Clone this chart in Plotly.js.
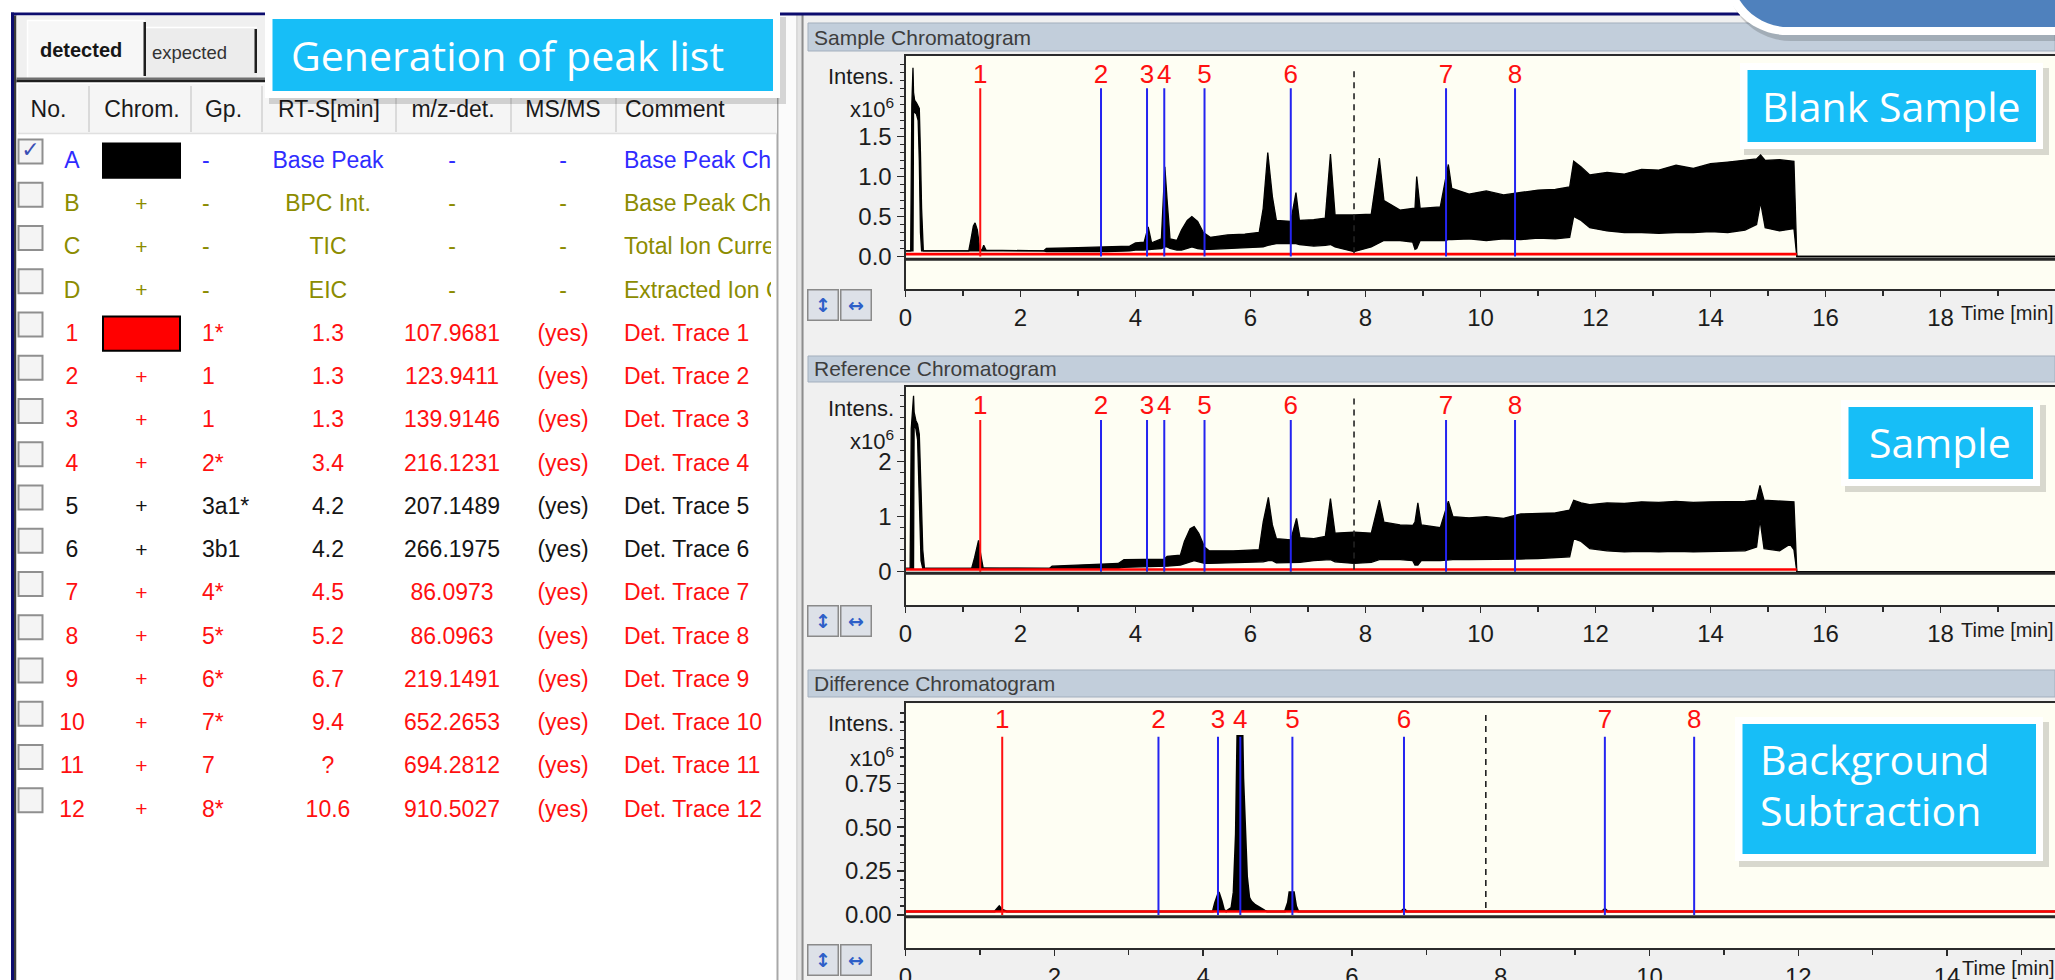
<!DOCTYPE html>
<html><head><meta charset="utf-8">
<script src="https://cdn.plot.ly/plotly-3.0.1.min.js"></script>
<style>html,body{margin:0;padding:0;background:#fff;overflow:hidden}#chart{width:2055px;height:980px}</style>
</head><body><div id="chart"></div>
<script>
// ================= DATA =================
// ---- peak list table ----
const tableHeader = ['No.', 'Chrom.', 'Gp.', 'RT-S[min]', 'm/z-det.', 'MS/MS', 'Comment'];
const rowNo      = ['A','B','C','D','1','2','3','4','5','6','7','8','9','10','11','12'];
const rowChecked = [true,false,false,false,false,false,false,false,false,false,false,false,false,false,false,false];
const rowSwatch  = ['#000000',null,null,null,'#ff0000',null,null,null,null,null,null,null,null,null,null,null];
const rowGp      = ['-','-','-','-','1*','1','1','2*','3a1*','3b1','4*','5*','6*','7*','7','8*'];
const rowRT      = ['Base Peak','BPC Int.','TIC','EIC','1.3','1.3','1.3','3.4','4.2','4.2','4.5','5.2','6.7','9.4','?','10.6'];
const rowMz      = ['-','-','-','-','107.9681','123.9411','139.9146','216.1231','207.1489','266.1975','86.0973','86.0963','219.1491','652.2653','694.2812','910.5027'];
const rowMsMs    = ['-','-','-','-','(yes)','(yes)','(yes)','(yes)','(yes)','(yes)','(yes)','(yes)','(yes)','(yes)','(yes)','(yes)'];
const rowComment = ['Base Peak Chromatogram','Base Peak Chromatogram','Total Ion Current','Extracted Ion Chromatogram',
  'Det. Trace 1','Det. Trace 2','Det. Trace 3','Det. Trace 4','Det. Trace 5','Det. Trace 6','Det. Trace 7','Det. Trace 8',
  'Det. Trace 9','Det. Trace 10','Det. Trace 11','Det. Trace 12'];
const rowColor   = ['#2f2cff','#8c8c00','#8c8c00','#8c8c00','#ff1010','#ff1010','#ff1010','#ff1010','#141414','#141414',
  '#ff1010','#ff1010','#ff1010','#ff1010','#ff1010','#ff1010'];

// ---- chromatogram 1: blank sample (upper / lower envelope of the base peak trace, x10^6) ----
const blankTime = [
  0.00, 0.09, 0.11, 0.13, 0.14, 0.16, 0.19, 0.22, 0.24, 0.26,
  0.28, 0.31, 1.10, 1.14, 1.18, 1.21, 1.25, 1.29, 1.33, 1.36,
  1.40, 2.40, 2.45, 3.00, 3.50, 3.90, 4.00, 4.15, 4.22, 4.28,
  4.45, 4.51, 4.55, 4.60, 4.72, 4.80, 4.90, 4.98, 5.08, 5.18,
  5.30, 5.60, 5.90, 6.15, 6.22, 6.30, 6.38, 6.45, 6.70, 6.79,
  6.85, 7.10, 7.30, 7.39, 7.47, 7.80, 8.10, 8.18, 8.24, 8.32,
  8.60, 8.82, 8.86, 8.89, 8.95, 9.30, 9.38, 9.44, 9.50, 9.80,
  10.10, 10.40, 10.70, 11.00, 11.30, 11.55, 11.62, 11.75, 11.90, 12.20,
  12.50, 12.80, 13.10, 13.40, 13.70, 14.00, 14.30, 14.60, 14.80, 14.87,
  14.95, 15.20, 15.45, 15.50, 19.99];
const blankUpper = [
  0.07, 0.07, 1.90, 2.36, 2.05, 1.95, 1.92, 1.88, 1.85, 1.30,
  0.60, 0.07, 0.07, 0.22, 0.38, 0.42, 0.33, 0.10, 0.08, 0.14,
  0.08, 0.07, 0.10, 0.11, 0.12, 0.13, 0.17, 0.18, 0.37, 0.17,
  0.22, 1.12, 0.70, 0.22, 0.20, 0.33, 0.45, 0.50, 0.44, 0.30,
  0.24, 0.27, 0.28, 0.30, 0.60, 1.30, 0.75, 0.45, 0.44, 0.80,
  0.45, 0.46, 0.48, 1.28, 0.52, 0.52, 0.53, 0.90, 1.23, 0.70,
  0.58, 0.60, 0.60, 1.00, 0.60, 0.62, 0.90, 1.15, 0.85, 0.78,
  0.82, 0.77, 0.80, 0.83, 0.84, 0.87, 1.19, 1.12, 1.02, 1.05,
  1.03, 1.09, 1.08, 1.14, 1.10, 1.16, 1.18, 1.20, 1.22, 1.27,
  1.20, 1.21, 1.19, 0.00, 0.00];
const blankLower = [
  0.07, 0.07, 0.07, 0.07, 1.85, 1.80, 1.78, 1.70, 1.20, 0.30,
  0.07, 0.07, 0.07, 0.07, 0.07, 0.07, 0.07, 0.07, 0.07, 0.07,
  0.07, 0.07, 0.06, 0.06, 0.06, 0.07, 0.08, 0.08, 0.09, 0.09,
  0.10, 0.12, 0.12, 0.10, 0.08, 0.08, 0.10, 0.12, 0.10, 0.09,
  0.09, 0.10, 0.11, 0.11, 0.12, 0.14, 0.15, 0.16, 0.16, 0.16,
  0.15, 0.13, 0.14, 0.15, 0.12, 0.06, 0.12, 0.15, 0.18, 0.20,
  0.20, 0.18, 0.09, 0.10, 0.20, 0.20, 0.20, 0.21, 0.21, 0.22,
  0.20, 0.22, 0.21, 0.23, 0.22, 0.24, 0.50, 0.45, 0.36, 0.32,
  0.30, 0.30, 0.29, 0.30, 0.30, 0.31, 0.30, 0.33, 0.40, 0.68,
  0.36, 0.32, 0.35, 0.00, 0.00];

// ---- chromatogram 2: sample (reference chromatogram) ----
const sampleTime = [
  0.00, 0.08, 0.10, 0.14, 0.15, 0.18, 0.21, 0.24, 0.27, 0.30,
  0.33, 1.15, 1.20, 1.25, 1.27, 1.31, 1.35, 2.50, 2.55, 3.20,
  3.70, 3.80, 4.50, 4.55, 4.78, 4.85, 4.95, 5.02, 5.10, 5.20,
  5.28, 5.70, 6.15, 6.22, 6.31, 6.38, 6.45, 6.70, 6.80, 6.86,
  7.10, 7.30, 7.39, 7.47, 7.80, 8.10, 8.18, 8.24, 8.32, 8.60,
  8.82, 8.86, 8.91, 8.97, 9.30, 9.38, 9.44, 9.52, 9.80, 10.10,
  10.40, 10.70, 11.00, 11.30, 11.55, 11.62, 11.75, 11.90, 12.20, 12.50,
  12.80, 13.10, 13.40, 13.70, 14.00, 14.30, 14.60, 14.80, 14.86, 14.93,
  15.20, 15.38, 15.45, 15.50, 19.99];
const sampleUpper = [
  0.06, 0.06, 2.60, 3.20, 2.90, 2.75, 2.68, 2.50, 1.50, 0.40,
  0.06, 0.06, 0.25, 0.50, 0.57, 0.30, 0.07, 0.06, 0.10, 0.13,
  0.15, 0.22, 0.23, 0.28, 0.30, 0.55, 0.78, 0.82, 0.70, 0.45,
  0.38, 0.38, 0.40, 0.90, 1.35, 0.85, 0.60, 0.58, 0.97, 0.62,
  0.60, 0.64, 1.33, 0.70, 0.72, 0.70, 1.05, 1.30, 0.90, 0.85,
  0.84, 0.90, 1.25, 0.85, 0.80, 1.10, 1.28, 1.00, 0.98, 1.00,
  0.97, 1.05, 1.06, 1.07, 1.12, 1.30, 1.25, 1.22, 1.25, 1.24,
  1.27, 1.26, 1.28, 1.26, 1.27, 1.27, 1.28, 1.30, 1.57, 1.30,
  1.28, 1.28, 1.27, 0.00, 0.00];
const sampleLower = [
  0.06, 0.06, 0.06, 0.06, 2.70, 2.60, 2.40, 1.00, 0.20, 0.06,
  0.06, 0.06, 0.06, 0.06, 0.06, 0.06, 0.06, 0.06, 0.05, 0.06,
  0.06, 0.08, 0.09, 0.10, 0.12, 0.14, 0.18, 0.20, 0.18, 0.15,
  0.15, 0.16, 0.17, 0.18, 0.20, 0.20, 0.16, 0.16, 0.16, 0.17,
  0.20, 0.22, 0.22, 0.18, 0.15, 0.17, 0.20, 0.22, 0.22, 0.22,
  0.20, 0.12, 0.12, 0.20, 0.20, 0.21, 0.22, 0.22, 0.22, 0.22,
  0.22, 0.23, 0.24, 0.25, 0.27, 0.60, 0.55, 0.42, 0.38, 0.36,
  0.37, 0.36, 0.37, 0.36, 0.37, 0.37, 0.38, 0.45, 0.95, 0.42,
  0.38, 0.50, 0.40, 0.00, 0.00];

// ---- chromatogram 3: difference (background subtraction) ----
const diffTime = [0.00, 1.20, 1.26, 1.30, 1.36, 4.13, 4.16, 4.19, 4.21, 4.25, 4.28, 4.31, 4.38, 4.41, 4.44, 4.46,
  4.53, 4.54, 4.56, 4.59, 4.62, 4.65, 4.70, 4.77, 4.83, 4.86, 5.10, 5.14, 5.16, 5.22, 5.25, 5.28, 6.66, 6.70, 6.74,
  9.36, 9.40, 9.44, 15.45];
const diffValue = [0.02, 0.02, 0.05, 0.03, 0.02, 0.02, 0.07, 0.11, 0.13, 0.08, 0.03, 0.02, 0.04, 0.13, 0.46, 1.02,
  1.02, 0.78, 0.51, 0.22, 0.10, 0.076, 0.057, 0.038, 0.025, 0.02, 0.02, 0.07, 0.13, 0.13, 0.05, 0.02, 0.02, 0.035, 0.02,
  0.02, 0.035, 0.02, 0.02];

// ---- red extracted ion trace (Det. Trace 1) ----
const eicTime  = [0, 15.5];
const eicBlank = [0.03, 0.03];
const eicSample = [0.04, 0.04];
const eicDiffTime = [0, 15.45];
const eicDiff  = [0.02, 0.02];

// cursor (dashed) position
const cursorTime = 7.8;

// axis tick labels
const timeTicksLong  = [0, 2, 4, 6, 8, 10, 12, 14, 16, 18];
const timeTicksShort = [0, 2, 4, 6, 8, 10, 12, 14];
const intensTicks1 = [0, 0.5, 1.0, 1.5],        intensText1 = ['0.0','0.5','1.0','1.5'];
const intensTicks2 = [0, 1, 2],                 intensText2 = ['0','1','2'];
const intensTicks3 = [0, 0.25, 0.5, 0.75],      intensText3 = ['0.00','0.25','0.50','0.75'];

// ================= STYLE / LAYOUT =================
const W = 2055, H = 980;
const X = p => p / W;
const Y = p => 1 - p / H;
const UI = '"Liberation Sans", Arial, sans-serif';
const CALL = '"Open Sans", "Noto Sans", sans-serif';
const TXT = '#1c1c1c', AX = '#2b2b2b', BLUE = '#2424f0', RED = '#ff1010', CYAN = '#17bef7';

function steps(a, b, s) { const o = []; for (let i = 0; a + i * s <= b + 1e-9; i++) o.push(+(a + i * s).toFixed(4)); return o; }

const shapes = [], annotations = [], traces = [];
function R(x0, y0, x1, y1, fill, layer, line) {
  shapes.push({type:'rect', xref:'paper', yref:'paper', x0:X(x0), x1:X(x1), y0:Y(y1), y1:Y(y0),
    fillcolor:fill, line: line || {width:0}, layer: layer || 'below'});
}
function L(x0, y0, x1, y1, color, w, layer) {
  shapes.push({type:'line', xref:'paper', yref:'paper', x0:X(x0), x1:X(x1), y0:Y(y0), y1:Y(y1),
    line:{color, width:w}, layer: layer || 'below'});
}
function A(text, x, y, opt) {
  annotations.push(Object.assign({text, xref:'paper', yref:'paper', x:X(x), y:Y(y), showarrow:false,
    xanchor:'left', yanchor:'middle', font:{family:UI, size:22, color:TXT}}, opt || {}));
}
function roundedPath(x0, yb, r, xr, ytop) {
  const k = 0.5523;
  const P = (x, y) => X(x).toFixed(5) + ',' + Y(y).toFixed(5);
  return 'M' + P(x0, ytop) + ' L' + P(x0, yb - r) + ' C' + P(x0, yb - r + k * r) + ' ' + P(x0 + r - k * r, yb) + ' ' +
    P(x0 + r, yb) + ' L' + P(xr, yb) + ' L' + P(xr, ytop) + ' Z';
}

// ---------- backgrounds ----------
R(0, 0, W, H, '#ffffff');
R(804, 15, W, H, '#f0f0f0');
R(779, 15, 796, H, '#fbfbfb');
R(796, 15, 804, H, '#e4e4e4');
L(797, 15, 797, H, '#cfcfcf', 1);
L(802.5, 15, 802.5, H, '#8d8d8d', 2);
R(11, 12.5, 1740, 15.5, '#0c0c6e');
R(11, 12.5, 14, H, '#0c0c6e');
R(14, 15.5, 16.5, H, '#3a3a3a');
// tabs
R(16.5, 15.5, 779, 79, '#f0f0f0');
R(27, 20, 145, 79, '#f7f7f7');
L(27.5, 20, 27.5, 79, '#ffffff', 1.5);
L(27, 20.5, 145, 20.5, '#ffffff', 1.5);
R(143.5, 22, 146, 76, '#1e1e1e');
R(146, 27, 257, 79, '#ececec');
L(146, 27.5, 257, 27.5, '#ffffff', 1.5);
R(254.5, 29, 257, 73, '#1e1e1e');
R(16.5, 77.5, 779, 80, '#707070');
R(16.5, 80, 779, 82.5, '#1f1f1f');
// table
R(16.5, 82.5, 777, H, '#ffffff');
L(777.5, 82, 777.5, H, '#a8a8a8', 2);
R(18, 84, 777, 133, '#f5f5f5');
[89, 191, 262, 396, 511, 616].forEach(x => L(x, 86, x, 132, '#dadada', 2));
L(18, 133.5, 777, 133.5, '#e0e0e0', 1.5);

// ---------- chromatogram panels ----------
const panels = [
  {title:'Sample Chromatogram', header:[23, 51], top:56, bottom:289.3, xmax:19.99, yr:[-0.41, 2.506],
   yTicks:intensTicks1, yText:intensText1, yMinor:steps(0.1, 2.4, 0.1), xTicks:timeTicksLong, xMinor:steps(1, 19, 2),
   labelY:2.244, lineTop:2.104, dashTop:2.37, sepY:-0.035, intensY:76.7, x10Y:108, timeY:313, navY:305, timeX:1959,
   time:blankTime, upper:blankUpper, lower:blankLower, eicT:eicTime, eic:eicBlank},
  {title:'Reference Chromatogram', header:[356, 382], top:387, bottom:605, xmax:19.99, yr:[-0.605, 3.358],
   yTicks:intensTicks2, yText:intensText2, yMinor:steps(0.2, 3.2, 0.2), xTicks:timeTicksLong, xMinor:steps(1, 19, 2),
   labelY:2.985, lineTop:2.76, dashTop:3.21, sepY:-0.03, intensY:408, x10Y:440, timeY:630, navY:621, timeX:1959,
   time:sampleTime, upper:sampleUpper, lower:sampleLower, eicT:eicTime, eic:eicSample},
  {title:'Difference Chromatogram', header:[670, 697], top:703.3, bottom:948.3, xmax:15.45, yr:[-0.19, 1.206],
   yTicks:intensTicks3, yText:intensText3, yMinor:steps(0.05, 1.15, 0.05), xTicks:timeTicksShort, xMinor:steps(1, 15, 2),
   labelY:1.101, lineTop:1.016, dashTop:1.159, sepY:-0.01, intensY:723, x10Y:756.7, timeY:968, navY:960, timeX:1960,
   diffT:diffTime, diff:diffValue, eicT:eicDiffTime, eic:eicDiff}
];

// peak markers derived from the table: groups marked with *
const markers = rowGp.map((g, i) => ({g, i})).filter(o => o.g.endsWith('*')).map(o => ({
  label: String(parseInt(o.g, 10)), rt: parseFloat(rowRT[o.i]), color: rowSwatch[o.i] ? RED : BLUE}));

const layout = {
  width:W, height:H, margin:{l:0, r:0, t:0, b:0, pad:0}, paper_bgcolor:'#ffffff', plot_bgcolor:'rgba(0,0,0,0)',
  showlegend:false, hovermode:false, font:{family:UI, size:22, color:TXT}, shapes, annotations
};

const tickFont = {family:UI, size:24, color:TXT};
panels.forEach((p, k) => {
  const n = k === 0 ? '' : String(k + 1);
  const xa = 'x' + n, ya = 'y' + n;
  R(808, p.header[0], W, p.header[1], '#c2cedb', 'below', {color:'#a3afbd', width:1});
  A(p.title, 812, (p.header[0] + p.header[1]) / 2, {font:{family:UI, size:21, color:'#3d3d3d'}});
  R(905.5, p.top, W, p.bottom, '#fefef3');
  A('Intens.', 896, p.intensY, {xanchor:'right'});
  A('x10<sup>6</sup>', 896, p.x10Y, {xanchor:'right'});
  A('Time [min]', p.timeX, p.timeY, {font:{family:UI, size:20, color:TXT}});
  A('<b>↕</b>', 823, p.navY, {xanchor:'center', bgcolor:'#dde1e8', bordercolor:'#8a8a8a', borderwidth:1.5, width:27, height:27,
     font:{family:'DejaVu Sans', size:19, color:'#2d5fc8'}});
  A('<b>↔</b>', 855.5, p.navY, {xanchor:'center', bgcolor:'#dde1e8', bordercolor:'#8a8a8a', borderwidth:1.5, width:27, height:27,
     font:{family:'DejaVu Sans', size:19, color:'#2d5fc8'}});
  shapes.push({type:'line', xref:xa + ' domain', yref:ya, x0:0, x1:1, y0:p.sepY, y1:p.sepY,
    line:{color:'#262626', width:3}, layer:'above'});

  layout['xaxis' + n] = {domain:[X(905.5), 1], range:[0, p.xmax], anchor:ya, showline:true, mirror:true,
    linecolor:AX, linewidth:2, ticks:'outside', ticklen:6, tickwidth:1.5, tickcolor:AX, tickmode:'array',
    tickvals:p.xTicks, ticktext:p.xTicks.map(String), tickfont:tickFont, showgrid:false, zeroline:false, fixedrange:true,
    minor:{tickmode:'array', tickvals:p.xMinor, ticks:'outside', ticklen:5, tickwidth:1.5, tickcolor:AX, showgrid:false}};
  layout['yaxis' + n] = {domain:[Y(p.bottom), Y(p.top)], range:p.yr, anchor:xa, showline:true, linecolor:AX, linewidth:2,
    ticks:'outside', ticklen:7, tickwidth:1.5, tickcolor:AX, tickmode:'array', tickvals:p.yTicks, ticktext:p.yText,
    tickfont:tickFont, showgrid:false, zeroline:false, fixedrange:true,
    minor:{tickmode:'array', tickvals:p.yMinor, ticks:'outside', ticklen:4, tickwidth:1.5, tickcolor:AX, showgrid:false}};

  const base = {xaxis:xa, yaxis:ya, hoverinfo:'skip', cliponaxis:true};
  if (p.time) {
    traces.push(Object.assign({type:'scatter', mode:'lines', x:p.time, y:p.upper, line:{color:'#000', width:1.3}}, base));
    traces.push(Object.assign({type:'scatter', mode:'lines', x:p.time, y:p.lower, fill:'tonexty', fillcolor:'#000000',
      line:{color:'#000', width:1.3}}, base));
  } else {
    traces.push(Object.assign({type:'scatter', mode:'lines', x:p.diffT, y:p.diff, fill:'toself', fillcolor:'#000000',
      line:{color:'#000', width:2}}, base));
  }
  traces.push(Object.assign({type:'scatter', mode:'lines', x:p.eicT, y:p.eic, line:{color:'#ff0000', width:2.6}}, base));
  ['red', 'blue'].forEach(c => {
    const ms = markers.filter(m => (m.color === RED) === (c === 'red'));
    const xs = [], ys = [];
    ms.forEach(m => { xs.push(m.rt, m.rt, null); ys.push(0, p.lineTop, null); });
    traces.push(Object.assign({type:'scatter', mode:'lines', x:xs, y:ys, connectgaps:false,
      line:{color: c === 'red' ? RED : BLUE, width:2}}, base));
  });
  traces.push(Object.assign({type:'scatter', mode:'lines', x:[cursorTime, cursorTime], y:[0.04, p.dashTop],
    line:{color:'#222', width:1.6, dash:'6px,5px'}}, base));
  traces.push(Object.assign({type:'scatter', mode:'text', x:markers.map(m => m.rt), y:markers.map(() => p.labelY),
    text:markers.map(m => m.label), textposition:'middle center', textfont:{family:UI, size:26, color:RED}}, base));
});

// ---------- table (own hidden subplot: x in pixels of the panel, y = row index) ----------
const col = {check:30.5, no:72, chrom:103, chromW:77, plus:141.5, gp:202, rt:328, mz:452, msms:563, comment:624};
const headX = [48.5, 142, 223.5, 329, 453, 563, 625];
const rowOrigin = 162, rowStep = 43.25;
const headRow = (111 - rowOrigin) / rowStep;
layout.xaxis4 = {domain:[X(16.5), X(771)], range:[16.5, 771], visible:false, fixedrange:true};
layout.yaxis4 = {domain:[0, Y(83)], range:[(980 - rowOrigin) / rowStep, (83 - rowOrigin) / rowStep], visible:false, fixedrange:true, anchor:'x4'};
const tb = {xaxis:'x4', yaxis:'y4', hoverinfo:'skip', cliponaxis:true, type:'scatter'};
const idx = rowNo.map((_, i) => i);
const tf = (size) => ({family:UI, size, color:rowColor});
const TS = 23;

traces.push(Object.assign({mode:'text', x:headX.slice(0, 6), y:headX.slice(0, 6).map(() => headRow), text:tableHeader.slice(0, 6),
  textposition:'middle center', textfont:{family:UI, size:TS, color:'#1a1a1a'}}, tb));
traces.push(Object.assign({mode:'text', x:[headX[6]], y:[headRow], text:[tableHeader[6]],
  textposition:'middle right', textfont:{family:UI, size:TS, color:'#1a1a1a'}}, tb));
// check boxes
traces.push(Object.assign({mode:'markers', x:idx.map(() => col.check), y:idx.map(i => i - 0.24),
  marker:{symbol:'square', size:24, color:'#f4f4f4', line:{color:'#8f8f8f', width:2}}}, tb));
const chk = idx.filter(i => rowChecked[i]);
traces.push(Object.assign({mode:'text', x:chk.map(() => col.check), y:chk.map(i => i - 0.24), text:chk.map(() => '✓'),
  textposition:'middle center', textfont:{family:'DejaVu Sans', size:22, color:'#3a4fb5'}}, tb));
// chromatogram swatches
const sw = idx.filter(i => rowSwatch[i]);
traces.push({type:'bar', orientation:'h', xaxis:'x4', yaxis:'y4', hoverinfo:'skip', y:sw.map(i => i - 0.03), x:sw.map(() => col.chromW),
  base:sw.map(() => col.chrom), width:0.79, marker:{color:sw.map(i => rowSwatch[i]), line:{color:'#000', width:2}}});
const pl = idx.filter(i => !rowSwatch[i]);
traces.push(Object.assign({mode:'text', x:pl.map(() => col.plus), y:pl, text:pl.map(() => '+'), textposition:'middle center',
  textfont:{family:UI, size:21, color:pl.map(i => rowColor[i])}}, tb));
// text columns
traces.push(Object.assign({mode:'text', x:idx.map(() => col.no), y:idx, text:rowNo, textposition:'middle center', textfont:tf(TS)}, tb));
traces.push(Object.assign({mode:'text', x:idx.map(() => col.gp), y:idx, text:rowGp, textposition:'middle right', textfont:tf(TS)}, tb));
traces.push(Object.assign({mode:'text', x:idx.map(() => col.rt), y:idx, text:rowRT, textposition:'middle center', textfont:tf(TS)}, tb));
traces.push(Object.assign({mode:'text', x:idx.map(() => col.mz), y:idx, text:rowMz, textposition:'middle center', textfont:tf(TS)}, tb));
traces.push(Object.assign({mode:'text', x:idx.map(() => col.msms), y:idx, text:rowMsMs, textposition:'middle center', textfont:tf(TS)}, tb));
traces.push(Object.assign({mode:'text', x:idx.map(() => col.comment), y:idx, text:rowComment, textposition:'middle right', textfont:tf(TS)}, tb));

// ---------- tab labels ----------
A('<b>detected</b>', 81, 50, {xanchor:'center', font:{family:UI, size:20, color:'#161616'}});
A('expected', 189, 53, {xanchor:'center', font:{family:UI, size:18.5, color:'#333333'}});

// ---------- call-out boxes ----------
shapes.push({type:'path', xref:'paper', yref:'paper', path:roundedPath(1726, 41, 65, 2100, -150), fillcolor:'rgba(0,0,0,0.16)', line:{width:0}, layer:'above'});
shapes.push({type:'path', xref:'paper', yref:'paper', path:roundedPath(1722, 35, 65, 2100, -150), fillcolor:'#ffffff', line:{width:0}, layer:'above'});
shapes.push({type:'path', xref:'paper', yref:'paper', path:roundedPath(1731, 27, 57, 2100, -150), fillcolor:'#4f81bd', line:{width:0}, layer:'above'});
function callout(x0, y0, x1, y1) {
  R(x0 + 4, y0 + 5, x1 + 6, y1 + 6, 'rgba(0,0,0,0.15)', 'above');
  R(x0, y0, x1, y1, '#ffffff', 'above');
  R(x0 + 7.5, y0 + 7, x1 - 7, y1 - 7, CYAN, 'above');
}
callout(265, 12, 780, 98);
callout(1740, 63, 2043, 149);
callout(1841, 400, 2040, 486);
callout(1735, 717, 2043, 861);
const cf = {family:CALL, size:41, color:'#ffffff'};
A('Generation of peak list', 289, 55, {font:cf});
A('Blank Sample', 1891, 106, {xanchor:'center', font:cf});
A('Sample', 1940, 442.5, {xanchor:'center', font:cf});
A('Background', 1758, 759, {font:cf});
A('Subtraction', 1758, 810, {font:cf});

Plotly.newPlot('chart', traces, layout, {staticPlot:true, displayModeBar:false});
</script></body></html>
